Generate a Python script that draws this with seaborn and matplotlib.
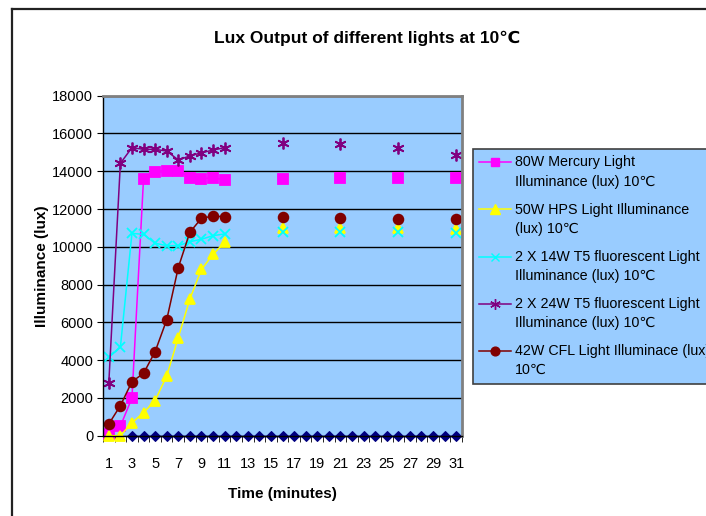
import numpy as np
import pandas as pd
import matplotlib
matplotlib.use('Agg')
import matplotlib.pyplot as plt
import seaborn as sns
from matplotlib.lines import Line2D
from matplotlib.legend_handler import HandlerLine2D

# ==============================================================================
# DATOS
# ==============================================================================
minutos = [1, 2, 3, 4, 5, 6, 7, 8, 9, 10, 11]
minutos_tarde = [16, 21, 26, 31]

mercurio_80w = [100, 500, 2000, 13600, 13950, 14030, 14030, 13660, 13600, 13660, 13540]
mercurio_80w_tarde = [13600, 13630, 13660, 13630]

hps_50w = [0, 0, 680, 1220, 1860, 3160, 5190, 7240, 8800, 9600, 10240]
hps_50w_tarde = [10980, 10980, 10980, 10950]

t5_14w = [4150, 4680, 10710, 10660, 10190, 10060, 10060, 10270, 10400, 10590, 10680]
t5_14w_tarde = [10770, 10780, 10780, 10750]

t5_24w = [2780, 14420, 15250, 15160, 15160, 15070, 14600, 14810, 14980, 15120, 15250]
t5_24w_tarde = [15480, 15430, 15220, 14860]

cfl_42w = [620, 1590, 2860, 3300, 4450, 6130, 8900, 10770, 11510, 11630, 11590]
cfl_42w_tarde = [11560, 11540, 11480, 11450]

minutos_cero = list(range(3, 32))
serie_cero = [0] * len(minutos_cero)

etiquetas = [
    '80W Mercury Light\nIlluminance (lux) 10℃',
    '50W HPS Light Illuminance\n(lux) 10℃',
    '2 X 14W T5 fluorescent Light\nIlluminance (lux) 10℃',
    '2 X 24W T5 fluorescent Light\nIlluminance (lux) 10℃',
    '42W CFL Light Illuminace (lux)\n10℃',
]


class HandleArriba(HandlerLine2D):
    """Sube el símbolo de la leyenda a la altura de la primera línea del texto."""
    def create_artists(self, legend, orig_handle, xdescent, ydescent, width,
                       height, fontsize, trans):
        artistas = super().create_artists(legend, orig_handle, xdescent, ydescent,
                                          width, height, fontsize, trans)
        for a in artistas:
            a.set_ydata(np.asarray(a.get_ydata()) + 0.72 * fontsize)
        return artistas


# ==============================================================================
# ESTILO
# ==============================================================================
plt.rcParams['font.family'] = ['Liberation Sans', 'DejaVu Sans']
FONDO = '#99CCFF'

series = [
    (mercurio_80w, mercurio_80w_tarde, '#FF00FF', 's', 6.5),
    (hps_50w, hps_50w_tarde, '#FFFF00', '^', 7.5),
    (t5_14w, t5_14w_tarde, '#00FFFF', 'x', 7),
    (t5_24w, t5_24w_tarde, '#800080', (6, 2, 0), 8.5),
    (cfl_42w, cfl_42w_tarde, '#800000', 'o', 7),
]

fig = plt.figure(figsize=(7.06, 5.16), dpi=100)
ax = fig.add_axes([103 / 706, 1 - 435.7 / 516, 359 / 706, 340 / 516])
ax.set_facecolor(FONDO)

# serie en cero (sin leyenda)
sns.lineplot(x=minutos_cero, y=serie_cero, color='#000080', marker='D',
             markersize=5.5, markeredgecolor='#000080', linewidth=1,
             clip_on=False, ax=ax)

for vals, tarde, color, mk, ms in series:
    sns.lineplot(x=minutos, y=vals, color=color, marker=mk, markersize=ms,
                 markeredgecolor=color, markeredgewidth=1.3, linewidth=1.1,
                 clip_on=False, ax=ax)
    sns.lineplot(x=minutos_tarde, y=tarde, color=color, marker=mk, markersize=ms,
                 markeredgecolor=color, markeredgewidth=1.3, linestyle='',
                 clip_on=False, ax=ax)

# ejes
ax.set_xlim(0.5, 31.5)
ax.set_ylim(0, 18000)
ax.set_xticks(range(1, 32, 2))
ax.set_xticks(np.arange(0.5, 32, 1), minor=True)
ax.set_yticks(range(0, 18001, 2000))
ax.tick_params(axis='x', which='major', length=0, pad=15, labelsize=10.5)
ax.tick_params(axis='x', which='minor', length=4, direction='out', color='black')
ax.tick_params(axis='y', length=4, direction='out', pad=3, labelsize=10.5)
ax.yaxis.grid(True, color='black', linewidth=1)
ax.set_axisbelow(True)
for lado in ['left', 'bottom']:
    ax.spines[lado].set_color('black')
    ax.spines[lado].set_linewidth(1)
for lado in ['top', 'right']:
    ax.spines[lado].set_color('#808080')
    ax.spines[lado].set_linewidth(2)

ax.set_xlabel('Time (minutes)', fontsize=11, fontweight='bold', labelpad=12)
ax.set_ylabel('Illuminance (lux)', fontsize=11, fontweight='bold', labelpad=2)
fig.text(367 / 706, 1 - 38 / 516, 'Lux Output of different lights at 10℃',
         ha='center', va='center', fontsize=12.5, fontweight='bold')

# leyenda
handles = [Line2D([], [], color=c, marker=mk, markersize=ms * 0.9,
                  markeredgecolor=c, linewidth=1.1)
           for _, _, c, mk, ms in series]
leg = fig.legend(handles, etiquetas, loc='upper left',
                 bbox_to_anchor=(473 / 706, 1 - 149 / 516), borderaxespad=0,
                 fontsize=10.3, frameon=True, fancybox=False, facecolor=FONDO,
                 edgecolor='#404040', framealpha=1, handlelength=2.2,
                 handletextpad=0.3, labelspacing=0.95, borderpad=0.45,
                 handler_map={Line2D: HandleArriba()})
leg.get_frame().set_linewidth(1.2)
for t in leg.get_texts():
    t.set_linespacing(1.5)

# marco exterior del gráfico
fig.add_artist(Line2D([12 / 706, 12 / 706], [0, 1 - 9 / 516], color='#222222',
                      linewidth=1.6, transform=fig.transFigure))
fig.add_artist(Line2D([12 / 706, 1], [1 - 9 / 516, 1 - 9 / 516], color='#222222',
                      linewidth=1.6, transform=fig.transFigure))

fig.savefig('out.png', dpi=100)
